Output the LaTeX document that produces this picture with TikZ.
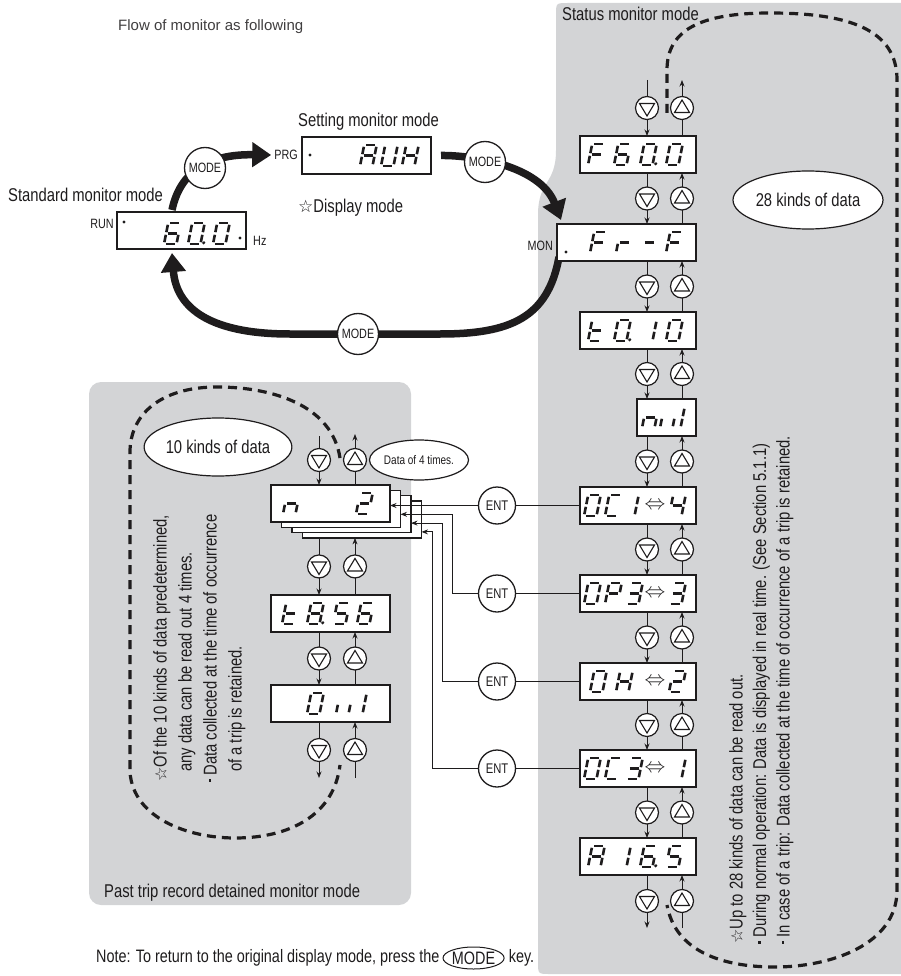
\documentclass[tikz,border=0pt]{standalone}
\usepackage{fontspec}
\setmainfont{Liberation Sans}[FakeStretch=0.8]
\newfontfamily\plainsans{Liberation Sans}
\newfontfamily\symf{DejaVu Sans}
\usetikzlibrary{arrows.meta,shapes.geometric,calc}
\definecolor{panelgray}{RGB}{211,212,214}
\definecolor{ink}{RGB}{30,28,29}
\pgfdeclarelayer{bg}
\pgfdeclarelayer{mid}
\pgfsetlayers{bg,mid,main}

\tikzset{
  lcd/.style={draw=ink, line width=1.4pt, fill=white, minimum height=37pt, inner sep=0pt, outer sep=0pt, anchor=north west},
  conn/.style={draw=ink, line width=0.9pt},
  arr/.style={conn, -{Stealth[length=6.5pt,width=5pt]}},
  btn/.style={circle, draw=ink, fill=white, line width=1.2pt, minimum size=23pt, inner sep=0pt},
  tri/.style={draw=ink, line width=1.1pt, line join=miter},
  entc/.style={circle, draw=ink, fill=white, line width=1.3pt, minimum size=37pt, inner sep=0pt, font=\fontsize{14}{16}\selectfont, text=ink},
  modec/.style={circle, draw=ink, fill=white, line width=1.3pt, minimum size=41pt, inner sep=0pt, font=\fontsize{13.5}{15}\selectfont, text=ink},
  bigarr/.style={draw=ink, line width=7.5pt, -{Triangle[length=19pt,width=24pt]}},
  dashloop/.style={draw=ink, line width=3.2pt, dash pattern=on 9pt off 6pt},
  segline/.style={draw=ink, line width=2.6pt},
  txt/.style={font=\fontsize{18.5}{22}\selectfont, text=ink, inner sep=0pt},
  lab/.style={font=\fontsize{13.5}{15}\selectfont, text=ink, inner sep=0pt},
  oval/.style={ellipse, draw=ink, fill=white, line width=1.2pt, inner sep=0pt, font=\fontsize{18.5}{22}\selectfont, text=ink},
}

% seven-segment digit, local width 12.5, height 21
\newcommand\sgxa{\draw[segline] (1.8,21)--(10.7,21);}
\newcommand\sgxb{\draw[segline] (12.5,19.2)--(12.5,11.8);}
\newcommand\sgxc{\draw[segline] (12.5,9.2)--(12.5,1.8);}
\newcommand\sgxd{\draw[segline] (1.8,0)--(10.7,0);}
\newcommand\sgxe{\draw[segline] (0,9.2)--(0,1.8);}
\newcommand\sgxf{\draw[segline] (0,19.2)--(0,11.8);}
\newcommand\sgxg{\draw[segline] (1.8,10.5)--(10.7,10.5);}
\newcommand\sgxp{\fill[ink] (15.5,1.2) circle (1.7);}
\newcommand\sdig[3]{\begin{scope}[shift={(#1,#2)},x=1pt,y=1pt,xslant=0.2]\edef\seglist{#3}\foreach \s in \seglist {\csname sgx\s\endcsname}\end{scope}}
\def\ChF{a,f,g,e}
\def\ChSix{a,f,g,e,d,c}
\def\ChZero{a,b,c,d,e,f}
\def\ChA{a,b,c,e,f,g}
\def\ChU{b,c,d,e,f}
\def\ChH{b,c,e,f,g}
\def\ChR{e,g}
\def\ChDash{g}
\def\ChT{f,e,d,g}
\def\ChOne{b,c}
\def\ChN{c,e,g}
\def\ChLu{c,d,e}
\def\ChC{a,d,e,f}
\def\ChP{a,b,e,f,g}
\def\ChThree{a,b,c,d,g}
\def\ChFour{b,c,f,g}
\def\ChTwo{a,b,d,e,g}
\def\ChEight{a,b,c,d,e,f,g}
\def\ChFive{a,c,d,f,g}

\newcommand\dnb[2]{\node[btn] (#1) at (#2) {};
  \draw[tri] ($(#1)+(-7.5,-4.5)$) -- ($(#1)+(7.5,-4.5)$) -- ($(#1)+(0,8)$) -- cycle;}
\newcommand\upb[2]{\node[btn] (#1) at (#2) {};
  \draw[tri] ($(#1)+(-7.5,4.5)$) -- ($(#1)+(7.5,4.5)$) -- ($(#1)+(0,-8)$) -- cycle;}
\newcommand\bul{\raisebox{0.3em}{\rule{2.4pt}{2.4pt}}\hspace{4pt}}

\begin{document}
\begin{tikzpicture}[x=1pt,y=-1pt]
\useasboundingbox (0,0) rectangle (901,976);

\begin{pgfonlayer}{bg}
\fill[panelgray] (905,3) -- (568,3) .. controls (556,3) .. (556,15) -- (556,150)
  .. controls (556,185) and (538,180) .. (538,215) -- (538,962)
  .. controls (538,974) .. (550,974) -- (905,974) -- cycle;
\fill[panelgray, rounded corners=12pt] (89,382) rectangle (411,905);
\draw[dashloop] (667,113) -- (667,70) .. controls (667,30) and (700,13) .. (770,13)
  .. controls (850,13) and (897,30) .. (897,80) -- (897,890)
  .. controls (897,945) and (830,967) .. (775,967) .. controls (720,967) and (675,950) .. (667,905);
\draw[dashloop] (340,458) .. controls (332,405) and (272,387) .. (217,387)
  .. controls (160,387) and (130,415) .. (130,452) -- (130,772)
  .. controls (133,818) and (188,838) .. (235,838) .. controls (290,838) and (334,815) .. (340,765);
\end{pgfonlayer}

% ---------- labels ----------
\node[anchor=west, font=\plainsans\fontsize{15}{18}\selectfont, text=ink!85, inner sep=0pt] (title) at (118,27) {Flow of monitor as following};
\node[txt, anchor=west] (statl) at (562,14) {Status monitor mode};
\node[txt, anchor=west] (setl) at (298,122) {Setting monitor mode};
\node[txt, anchor=west] (stdl) at (8,195) {Standard monitor mode};
\node[txt, anchor=west] (dispm) at (298,208) {{\symf\fontsize{17}{20}\selectfont ☆}Display mode};

% ---------- top displays ----------
\node[lcd, minimum width=129pt] (run) at (117,212) {};
\node[lcd, minimum width=129pt] (prg) at (302,137) {};
\node[lab, anchor=east] (runl) at (114,224) {RUN};
\node[lab, anchor=east] (prgl) at (298,155) {PRG};
\node[lab, anchor=west] (hzl) at (253,241) {Hz};
\fill[ink] (124,222) circle (1.6);
\fill[ink] (240,238) circle (1.6);
\fill[ink] (310,155) circle (1.6);
\sdig{164}{244}{\ChSix}
\sdig{188}{244}{\ChZero,p}
\sdig{213}{244}{\ChZero}
\sdig{360}{166}{\ChA}
\sdig{381}{166}{\ChU}
\sdig{402}{166}{\ChH}

% ---------- right column ----------
\node[lcd, minimum width=116pt] (R0) at (580,136) {};
\node[lcd, minimum width=139pt] (R1) at (557,224) {};
\node[lcd, minimum width=116pt] (R2) at (580,312) {};
\node[lcd, minimum width=59pt]  (R3) at (637,399) {};
\node[lcd, minimum width=116pt] (R4) at (580,487) {};
\node[lcd, minimum width=116pt] (R5) at (580,575) {};
\node[lcd, minimum width=116pt] (R6) at (580,663) {};
\node[lcd, minimum width=116pt] (R7) at (580,750) {};
\node[lcd, minimum width=116pt] (R8) at (580,838) {};
\node[lab, anchor=east] (monl) at (553,246) {MON};
\fill[ink] (566,252) circle (1.6);

\sdig{588}{165}{\ChF}\sdig{614}{165}{\ChSix}\sdig{640}{165}{\ChZero,p}\sdig{666}{165}{\ChZero}
\sdig{590}{253}{\ChF}\sdig{616}{253}{\ChR}\sdig{641}{253}{\ChDash}\sdig{666}{253}{\ChF}
\sdig{588}{341}{\ChT}\sdig{614}{341}{\ChZero,p}\sdig{640}{341}{\ChOne}\sdig{666}{341}{\ChZero}
\sdig{642}{428}{\ChN}\sdig{660}{428}{c,e}\sdig{668}{428}{\ChOne}
\sdig{584}{516}{\ChZero}\sdig{605}{516}{\ChC}\sdig{622}{516}{\ChOne}\sdig{669}{516}{\ChFour}
\sdig{584}{604}{\ChZero}\sdig{605}{604}{\ChP}\sdig{626}{604}{\ChThree}\sdig{669}{604}{\ChThree}
\sdig{590}{692}{\ChZero}\sdig{616}{692}{\ChH}\sdig{669}{692}{\ChTwo}
\sdig{584}{779}{\ChZero}\sdig{605}{779}{\ChC}\sdig{626}{779}{\ChThree}\sdig{669}{779}{\ChOne}
\sdig{588}{867}{\ChA}\sdig{614}{867}{\ChOne}\sdig{640}{867}{\ChSix,p}\sdig{666}{867}{\ChFive}
\foreach \r in {4,5,6,7}{\node[inner sep=0pt, font=\fontsize{22}{22}\selectfont, text=ink] (S\r) at (R\r.center -| 655,0) {$\Leftrightarrow$};}

% ---------- left column ----------
\foreach \k in {3,2,1,0}{\node[lcd, minimum width=119pt] (C\k) at ({271+10.5*\k},{485+5.3*\k}) {};}
\node[lcd, minimum width=119pt] (L1) at (271,595) {};
\node[lcd, minimum width=119pt] (L2) at (271,685) {};
\sdig{283}{514}{\ChN}\sdig{356}{514}{\ChTwo}
\sdig{282}{624}{\ChT}\sdig{307}{624}{\ChEight,p}\sdig{333}{624}{\ChFive}\sdig{357}{624}{\ChSix}
\sdig{307}{714}{\ChZero}\sdig{336}{714}{c,e}\sdig{350}{714}{\ChOne}

% ---------- column connectors ----------
\coordinate (xd) at (647,0); \coordinate (xu) at (682,0);
\coordinate (lxd) at (319,0); \coordinate (lxu) at (355,0);
\coordinate (rtd) at (647,80); \coordinate (rtu) at (682,80);
\coordinate (rbd) at (647,928); \coordinate (rbu) at (682,928);
\coordinate (ltd) at (319,436); \coordinate (ltu) at (355,434);
\coordinate (lbd) at (319,778); \coordinate (lbu) at (355,778);

\begin{pgfonlayer}{mid}
\draw[arr] (rtd) -- (R0.north -| xd);
\draw[arr] (R0.north -| xu) -- (rtu);
\foreach \i/\j in {0/1,1/2,2/3,3/4,4/5,5/6,6/7,7/8}{
  \draw[arr] (R\i.south -| xd) -- (R\j.north -| xd);
  \draw[arr] (R\j.north -| xu) -- (R\i.south -| xu);
}
\draw[arr] (R8.south -| xd) -- (rbd);
\draw[arr] (rbu) -- (R8.south -| xu);
\draw[arr] (ltd) -- (C0.north -| lxd);
\draw[arr] (C0.north -| lxu) -- (ltu);
\draw[arr] (C3.south -| lxd) -- (L1.north -| lxd);
\draw[arr] (L1.north -| lxu) -- (C3.south -| lxu);
\draw[arr] (L1.south -| lxd) -- (L2.north -| lxd);
\draw[arr] (L2.north -| lxu) -- (L1.south -| lxu);
\draw[arr] (L2.south -| lxd) -- (lbd);
\draw[arr] (lbu) -- (L2.south -| lxu);
% mode arcs
\coordinate (a1s) at ($(run.north west)+(55,-2)$);
\coordinate (a1e) at ($(prgl.west)+(-3,0)$);
\draw[bigarr] (a1s) .. controls (180,172) and (208,154) .. (a1e);
\coordinate (a2s) at ($(prg.east)+(10,0)$);
\coordinate (a2e) at ($(R1.north west)+(4,-4)$);
\draw[bigarr] (a2s) .. controls (470,155) and (540,165) .. (a2e);
\coordinate (a3s) at ($(R1.south west)+(2,-4)$);
\coordinate (a3e) at ($(run.south west)+(55,4)$);
\draw[bigarr] (a3s) .. controls (548,318) and (510,334) .. (440,334) -- (290,334)
  .. controls (205,334) and (176,305) .. (a3e);
\end{pgfonlayer}

\dnb{RD0}{rtd |- 0,108}\upb{RU0}{rtu |- 0,108}
\foreach \i/\j in {0/1,1/2,2/3,3/4,4/5,5/6,6/7,7/8}{
  \coordinate (m) at ($(R\i.south)!0.5!(R\j.north)$);
  \dnb{RD\j}{m -| xd}
  \upb{RU\j}{m -| xu}
}
\dnb{RD9}{rbd |- 0,901}\upb{RU9}{rbu |- 0,901}
\dnb{LD0}{ltd |- 0,460}\upb{LU0}{ltu |- 0,460}
\coordinate (lm1) at ($(C3.south)!0.5!(L1.north)$);
\dnb{LD1}{lm1 -| lxd}\upb{LU1}{lm1 -| lxu}
\coordinate (lm2) at ($(L1.south)!0.5!(L2.north)$);
\dnb{LD2}{lm2 -| lxd}\upb{LU2}{lm2 -| lxu}
\dnb{LD3}{lbd |- 0,750}\upb{LU3}{lbu |- 0,750}

% ---------- ENT connections ----------
\coordinate (v2) at (452,0); \coordinate (v3) at (442,0); \coordinate (v4) at (432,0);
\coordinate (ay2) at (0,514.3); \coordinate (ay3) at (0,523.1); \coordinate (ay4) at (0,531.9);
\coordinate (ex) at (497,0);
\draw[arr] (R4.west) -- (R4.west -| C0.east);
\draw[arr] (R5.west) -- (R5.west -| v2) -- (v2 |- ay2) -- (ay2 -| C1.east);
\draw[arr] (R6.west) -- (R6.west -| v3) -- (v3 |- ay3) -- (ay3 -| C2.east);
\draw[arr] (R7.west) -- (R7.west -| v4) -- (v4 |- ay4) -- (ay4 -| C3.east);
\node[entc] (E1) at (R4.west -| ex) {ENT};
\node[entc] (E2) at (R5.west -| ex) {ENT};
\node[entc] (E3) at (R6.west -| ex) {ENT};
\node[entc] (E4) at (R7.west -| ex) {ENT};

% ---------- MODE keys ----------
\node[modec] (ML) at (205,168) {MODE};
\node[modec] (MR) at (485,162) {MODE};
\node[modec] (MB) at (358,334) {MODE};

% ---------- ellipses ----------
\node[oval, minimum width=140pt, minimum height=58pt] (k10) at (218,447) {10 kinds of data};
\node[oval, minimum width=150pt, minimum height=58pt] (k28) at (808,200) {28 kinds of data};
\node[oval, minimum width=86pt, minimum height=40pt, font=\fontsize{12.5}{14}\selectfont] (d4) at (419,460) {Data of 4 times.};

% ---------- rotated notes ----------
\node[rotate=90, anchor=north west, align=left, font=\fontsize{18.5}{25}\selectfont, text=ink, inner sep=0pt] (ltxt) at (153,782)
 {{\symf\fontsize{16}{20}\selectfont ☆}Of the 10 kinds of data predetermined,\\\hspace*{10pt}any data can be read out 4 times.\\\bul Data collected at the time of occurrence\\\hspace*{10pt}of a trip is retained.};
\node[rotate=90, anchor=north west, align=left, font=\fontsize{18.5}{23.5}\selectfont, text=ink, inner sep=0pt] (rtxt) at (729,944)
 {{\symf\fontsize{16}{20}\selectfont ☆}Up to 28 kinds of data can be read out.\\\bul During normal operation: Data is displayed in real time. (See Section 5.1.1)\\\bul In case of a trip: Data collected at the time of occurrence of a trip is retained.};

\node[txt, anchor=west] (pastl) at (104,893) {Past trip record detained monitor mode};

% ---------- note ----------
\node[txt, anchor=west, font=\fontsize{18}{22}\selectfont] (note1) at (96,958) {Note: To return to the original display mode, press the};
\node[oval, anchor=west, minimum width=36pt, minimum height=22pt, line width=1pt, font=\fontsize{18}{22}\selectfont] (notem) at ($(note1.east)+(3,0)$) {MODE};
\node[txt, anchor=west, font=\fontsize{18}{22}\selectfont] (note2) at ($(notem.east)+(4,0)$) {key.};
\end{tikzpicture}
\end{document}
